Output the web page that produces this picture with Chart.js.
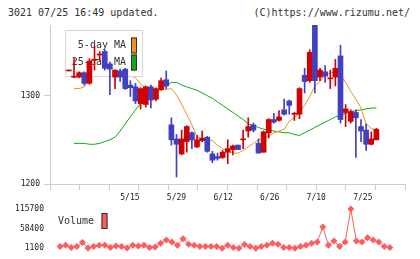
<!DOCTYPE html>
<html><head><meta charset="utf-8">
<script src="https://cdn.jsdelivr.net/npm/chart.js@4/dist/chart.umd.min.js"></script>
<style>
html,body{margin:0;padding:0;background:#fff;width:420px;height:259px;overflow:hidden;}
#wrap{position:relative;width:420px;height:259px;}
canvas{position:absolute;left:0;top:0;}
.hdr{position:absolute;top:6px;font:10px 'DejaVu Sans Mono',monospace;color:#333;line-height:13px;white-space:nowrap;}
</style></head><body>
<div id="wrap">
<div class="hdr" style="left:8px">3021 07/25 16:49 updated.</div>
<div class="hdr" style="right:10px">(C)https://www.rizumu.net/</div>
<canvas id="price" width="420" height="259"></canvas>
<canvas id="vol" width="420" height="259"></canvas>
</div>
<script>
// ---- data (one entry per trading day, index 0..60) ----
const openP  = [1328,1321,1321,1326,1314,1340,1346,1350,1336,1321,1328,1330,1312,1310,1291,1290,1310,1296,1307,1318,
                1267,1251,1234,1248,1258,1242,1249,1253,1234,1231,1230,1236,1239,1244,1250,1260,1267,1246,1236,1258,
                1273,1272,1284,1294,1279,1279,1323,1317,1380,1321,1327,1319,1321,1345,1281,1271,1281,1265,1261,1245,1250];
const highP  = [1328,1342,1327,1327,1342,1356,1350,1352,1338,1329,1330,1331,1317,1314,1309,1311,1312,1309,1320,1328,
                1275,1256,1261,1266,1259,1255,1260,1254,1237,1235,1238,1250,1244,1244,1261,1275,1269,1251,1260,1274,
                1280,1283,1296,1295,1281,1309,1331,1352,1380,1331,1334,1329,1341,1357,1290,1284,1284,1273,1268,1259,1263];
const lowP   = [1328,1320,1320,1312,1313,1329,1340,1329,1301,1308,1316,1307,1299,1291,1285,1287,1286,1294,1306,1308,
                1244,1208,1233,1236,1240,1241,1248,1236,1224,1227,1229,1223,1233,1239,1240,1253,1259,1235,1236,1252,
                1269,1271,1278,1279,1272,1274,1303,1315,1303,1317,1315,1308,1311,1269,1265,1269,1230,1248,1238,1244,1250];
const closeP = [1328,1322,1326,1314,1339,1341,1347,1331,1330,1329,1321,1308,1309,1294,1308,1310,1295,1308,1317,1311,
                1250,1245,1251,1265,1250,1250,1252,1237,1227,1229,1236,1240,1243,1239,1251,1265,1261,1235,1259,1273,
                1270,1276,1279,1289,1280,1308,1316,1349,1317,1329,1322,1320,1331,1273,1285,1282,1275,1260,1245,1251,1262];
const ma5  = [null,1308,1308,1310,1320,1328,1334,1337,1337,1335,1332,1327,1323,1320,1313,1309,1304,1306,1307,1307,
              1308,1301,1290,1279,1267,1253,1251,1250,1249,1244,1240,1237,1235,1235,1238,1242,1246,1250,1252,1254,
              1258,1260,1262,1271,1275,1281,1289,1299,1311,1316,1323,1326,1327,1323,1315,1305,1296,1286,1268,1263,1261];
const ma25 = [null,1246,1246,1246,1245,1245,1246,1248,1250,1253,1260,1268,1276,1284,1291,1294,1299,1304,1308,1311,
              1315,1315,1312,1310,1308,1306,1303,1300,1297,1293,1289,1285,1281,1277,1273,1268,1266,1264,1262,1261,
              1260,1259,1258,1258,1256,1255,1258,1261,1264,1267,1270,1273,1276,1278,1280,1282,1283,1284,1285,1286,1286];
// volume for days 1..60
const volume = [5970,9700,3100,5970,17430,1960,5970,9700,9700,3100,7700,5970,1960,9700,7700,9700,3100,4800,15400,24900,
                19150,9700,28900,12560,9700,5970,5970,5970,5970,1100,9700,3100,1100,11700,5970,1100,5970,9700,15400,12560,
                3100,3100,1100,5970,9700,15400,19150,63300,9700,22000,5970,19150,115700,22000,19150,31750,24900,19150,5970,3100];
const dateTickIdx    = [10,20,30,40,50,60];
const dateTickLabels = ['5/15','5/29','6/12','6/26','7/10','7/25'];
const priceTicks  = [1200,1300];
const volumeTicks = [1100,58400,115700];

// ---- styles ----
const UP='#d40000', DOWN='#4040c0', ORANGE='#f0901e', GREEN='#10a818', VOLC='#ff5c5c';
const X_MIN=-0.8, X_MAX=62.7;
const FONT='DejaVu Sans Mono';
Chart.defaults.font.family = FONT;
Chart.defaults.color = '#222';
Chart.defaults.animation = false;

const idx = openP.map((_,i)=>i);
const bodies = idx.map(i=>({x:i, y:[openP[i], closeP[i]]}));
const wicks  = idx.map(i=>({x:i, y:[lowP[i], highP[i]]}));
const colorOf = c => (closeP[c.dataIndex] >= openP[c.dataIndex]) ? UP : DOWN;
const plain = v => String(v);

const maLegend = {
  id:'maLegend',
  afterDatasetDraw(chart, args){
    if (chart.data.datasets[args.index].label !== '5-day MA') return;
    const ctx = chart.ctx;
    const items = chart.data.datasets.filter(d=>d.type==='line').reverse();
    ctx.save();
    ctx.fillStyle='#fff'; ctx.fillRect(65,30,78,47);
    ctx.strokeStyle='#d8d8d8'; ctx.lineWidth=1; ctx.strokeRect(65.5,30.5,77,46);
    ctx.font='10px '+FONT; ctx.textAlign='right'; ctx.textBaseline='middle';
    items.forEach((d,i)=>{
      const y = 45.5 + i*17;
      ctx.fillStyle='#333'; ctx.fillText(d.label, 126, y);
      ctx.fillStyle=d.borderColor; ctx.fillRect(131, y-8, 6, 16);
      ctx.strokeStyle='#333'; ctx.strokeRect(131.5, y-7.5, 5, 15);
    });
    ctx.restore();
  }
};

new Chart(document.getElementById('price'), {
  type:'bar',
  data:{datasets:[
    {type:'line', label:'25-day MA', data: ma25.map((v,i)=>({x:i,y:v})), borderColor:GREEN, backgroundColor:GREEN, borderWidth:1, pointRadius:0, order:4},
    {type:'line', label:'5-day MA', data: ma5.map((v,i)=>({x:i,y:v})), borderColor:ORANGE, backgroundColor:ORANGE, borderWidth:1, pointRadius:0, order:3},
    {label:'wick', data:wicks, backgroundColor:colorOf, barThickness:1, grouped:false, order:2},
    {label:'body', data:bodies, backgroundColor:colorOf, barThickness:5, minBarLength:1, grouped:false, order:1}
  ]},
  options:{
    responsive:false, animation:false, events:[],
    layout:{padding:{top:25,right:15,left:0,bottom:0}},
    plugins:{legend:{display:false}, tooltip:{enabled:false}},
    scales:{
      x:{type:'linear', position:'bottom', min:X_MIN, max:X_MAX,
         afterBuildTicks(s){ const t=[]; for(let i=0;i<=11;i++) t.push({value:X_MIN+i*(X_MAX-X_MIN)/11}); s.ticks=t; },
         afterFit(s){ s.height=6; },
         grid:{drawOnChartArea:false, drawTicks:true, tickLength:6, color:'#ccc'},
         border:{color:'#ccc'}, ticks:{display:false}},
      xl:{type:'linear', position:'bottom', min:X_MIN, max:X_MAX,
         afterBuildTicks(s){ s.ticks=dateTickIdx.map(v=>({value:v})); },
         afterFit(s){ s.height=69; },
         grid:{display:false, drawTicks:false}, border:{display:false},
         ticks:{autoSkip:false, maxRotation:0, padding:3, font:{size:8}, color:'#222',
                callback:(v)=>dateTickLabels[dateTickIdx.indexOf(v)]}},
      y:{min:1200, max:1380,
         afterFit(s){ s.width=50; },
         afterBuildTicks(s){ s.ticks=priceTicks.map(v=>({value:v})); },
         grid:{drawOnChartArea:false, drawTicks:true, tickLength:6, color:'#ccc'},
         border:{color:'#ccc'}, ticks:{font:{size:8}, padding:4, color:'#222', callback:plain}}
    }
  },
  plugins:[maLegend]
});

const volLegend = {
  id:'volLegend',
  afterDraw(chart){
    const ctx = chart.ctx, d = chart.data.datasets[0];
    ctx.save();
    ctx.font='10px '+FONT; ctx.textAlign='left'; ctx.textBaseline='middle';
    ctx.fillStyle='#333'; ctx.fillText(d.label, 58, 221.5);
    ctx.fillStyle=d.borderColor; ctx.fillRect(101.5, 213, 6, 16);
    ctx.strokeStyle='#333'; ctx.lineWidth=1; ctx.strokeRect(102, 213.5, 5, 15);
    ctx.restore();
  }
};

new Chart(document.getElementById('vol'), {
  type:'line',
  data:{datasets:[{label:'Volume', data: volume.map((v,i)=>({x:i+1,y:v})),
    borderColor:VOLC, backgroundColor:VOLC, borderWidth:1, pointStyle:'rectRot', pointRadius:3.5, pointBorderWidth:0, clip:false}]},
  options:{
    responsive:false, animation:false, events:[],
    layout:{padding:{top:209,bottom:10,left:0,right:15}},
    plugins:{legend:{display:false}, tooltip:{enabled:false}},
    scales:{
      x:{type:'linear', min:X_MIN, max:X_MAX, display:false},
      y:{min:1100, max:115700,
         afterFit(s){ s.width=50; },
         afterBuildTicks(s){ s.ticks=volumeTicks.map(v=>({value:v})); },
         grid:{display:false, drawTicks:false}, border:{display:false},
         ticks:{font:{size:8}, padding:6, color:'#222', callback:plain}}
    }
  },
  plugins:[volLegend]
});
</script>
</body></html>
